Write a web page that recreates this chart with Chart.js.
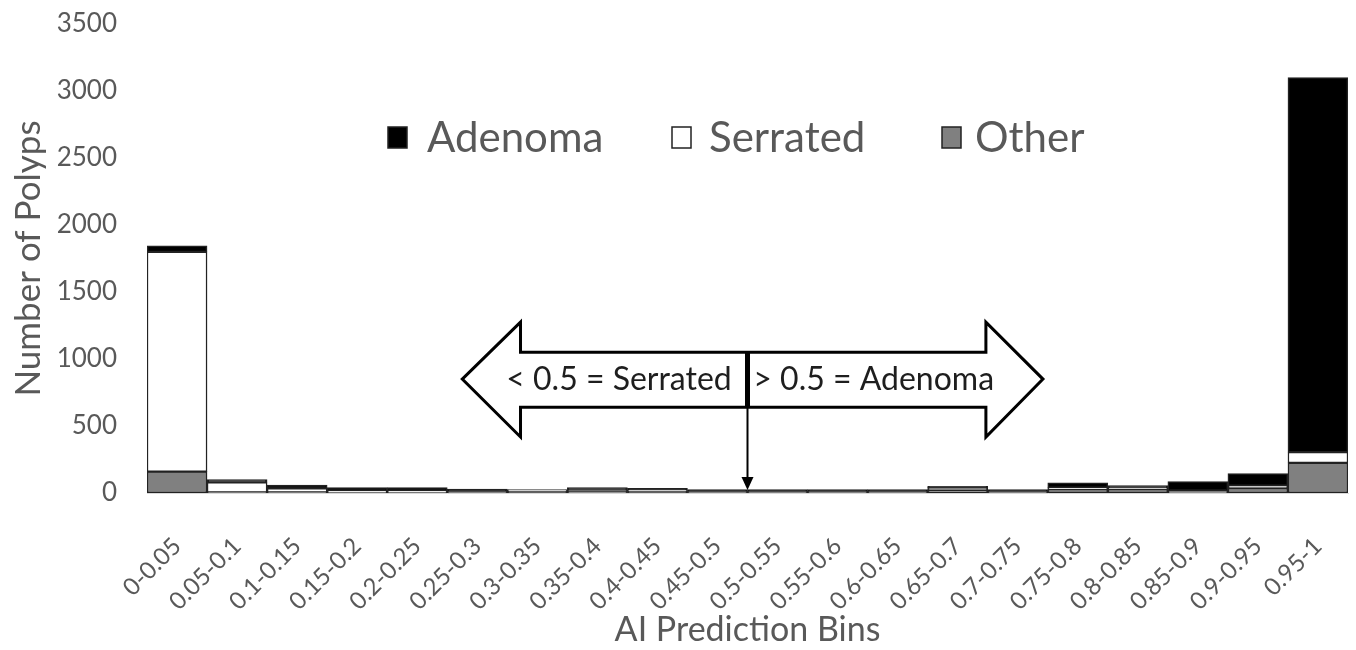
<!DOCTYPE html>
<html>
<head>
<meta charset="utf-8">
<script src="https://cdn.jsdelivr.net/npm/chart.js@4.4.1/dist/chart.umd.min.js"></script>
<style>
  html, body { margin: 0; padding: 0; background: #fff; }
  #wrap { width: 1356px; height: 650px; position: relative; }
</style>
</head>
<body>
<div id="wrap"><canvas id="polypChart"></canvas></div>
<script>
// Bins and counts
const binLabels = ['0-0.05', '0.05-0.1', '0.1-0.15', '0.15-0.2', '0.2-0.25', '0.25-0.3', '0.3-0.35',
    '0.35-0.4', '0.4-0.45', '0.45-0.5', '0.5-0.55', '0.55-0.6', '0.6-0.65', '0.65-0.7', '0.7-0.75',
    '0.75-0.8', '0.8-0.85', '0.85-0.9', '0.9-0.95', '0.95-1'];
const otherCounts    = [160, 5, 5, 5, 5, 5, 15, 10, 15, 5, 5, 5, 5, 20, 5, 30, 30, 10, 37, 225];
const serratedCounts = [1640, 75, 30, 10, 10, 5, 5, 10, 5, 5, 5, 5, 5, 20, 5, 10, 5, 5, 17, 80];
const adenomaCounts  = [45, 20, 25, 25, 25, 20, 5, 20, 15, 15, 15, 15, 15, 10, 15, 35, 20, 70, 90, 2795];
const yTicks = [0, 500, 1000, 1500, 2000, 2500, 3000, 3500];

const FONT = 'Lato, "Open Sans", sans-serif';
const TEXT_GRAY = '#595959';

// legend drawn inside the plot, in the order Adenoma / Serrated / Other
const floatingLegend = {
    id: 'floatingLegend',
    afterDraw(chart) {
        const ctx = chart.ctx;
        const items = [
            { ds: chart.data.datasets[2], box: 388, text: 427 },
            { ds: chart.data.datasets[1], box: 672, text: 709 },
            { ds: chart.data.datasets[0], box: 942, text: 975 }
        ];
        const y = 137;
        ctx.save();
        ctx.font = '42px ' + FONT;
        ctx.textBaseline = 'middle';
        items.forEach(it => {
            ctx.fillStyle = it.ds.backgroundColor;
            ctx.strokeStyle = '#222';
            ctx.lineWidth = 1.5;
            ctx.fillRect(it.box, y - 10, 19, 21);
            ctx.strokeRect(it.box, y - 10, 19, 21);
            ctx.fillStyle = TEXT_GRAY;
            ctx.fillText(it.ds.label, it.text, y + 1);
        });
        ctx.restore();
    }
};

// double arrow marking the 0.5 threshold
const thresholdArrow = {
    id: 'thresholdArrow',
    afterDraw(chart) {
        const xs = chart.scales.x, ys = chart.scales.y, ctx = chart.ctx;
        const X = v => xs.getPixelForValue(v);
        const Y = v => ys.getPixelForValue(v);
        const tipL = X(4.75), baseL = X(5.72), mid = X(9.5), baseR = X(13.47), tipR = X(14.42);
        const yTip = Y(850), headTop = Y(1275), headBot = Y(418), shaftTop = Y(1050), shaftBot = Y(640);
        ctx.save();
        ctx.beginPath();
        ctx.moveTo(tipL, yTip);
        ctx.lineTo(baseL, headTop);
        ctx.lineTo(baseL, shaftTop);
        ctx.lineTo(baseR, shaftTop);
        ctx.lineTo(baseR, headTop);
        ctx.lineTo(tipR, yTip);
        ctx.lineTo(baseR, headBot);
        ctx.lineTo(baseR, shaftBot);
        ctx.lineTo(baseL, shaftBot);
        ctx.lineTo(baseL, headBot);
        ctx.closePath();
        ctx.fillStyle = '#fff';
        ctx.fill();
        ctx.lineWidth = 3;
        ctx.strokeStyle = '#000';
        ctx.lineJoin = 'miter';
        ctx.stroke();

        // divider + pointer down to the axis
        ctx.beginPath();
        ctx.lineWidth = 5;
        ctx.moveTo(mid, shaftTop);
        ctx.lineTo(mid, shaftBot);
        ctx.stroke();
        const pointerEnd = Y(0) - 3;
        ctx.beginPath();
        ctx.lineWidth = 2;
        ctx.moveTo(mid, shaftBot);
        ctx.lineTo(mid, pointerEnd - 12);
        ctx.stroke();
        ctx.beginPath();
        ctx.moveTo(mid - 6, pointerEnd - 13);
        ctx.lineTo(mid + 6, pointerEnd - 13);
        ctx.lineTo(mid, pointerEnd);
        ctx.closePath();
        ctx.fillStyle = '#000';
        ctx.fill();

        ctx.font = '32px ' + FONT;
        ctx.fillStyle = '#1e1e1e';
        ctx.textAlign = 'center';
        ctx.textBaseline = 'middle';
        ctx.fillText('< 0.5 = Serrated', (baseL + mid) / 2 - 15, yTip + 1);
        ctx.fillText('> 0.5 = Adenoma', (mid + baseR) / 2 + 7, yTip + 1);
        ctx.restore();
    }
};

function barSet(label, data, color) {
    return {
        label: label,
        data: data,
        backgroundColor: color,
        borderColor: '#222',
        borderWidth: 1.5,
        borderSkipped: false,
        barPercentage: 1,
        categoryPercentage: 1
    };
}

new Chart(document.getElementById('polypChart').getContext('2d'), {
    type: 'bar',
    data: {
        labels: binLabels,
        datasets: [
            barSet('Other', otherCounts, '#808080'),
            barSet('Serrated', serratedCounts, '#ffffff'),
            barSet('Adenoma', adenomaCounts, '#000000')
        ]
    },
    options: {
        responsive: true,
        maintainAspectRatio: false,
        animation: false,
        layout: { padding: { top: 24, right: 8, left: 0, bottom: 0 } },
        plugins: { legend: { display: false }, tooltip: { enabled: false } },
        scales: {
            x: {
                stacked: true,
                grid: { display: false, drawTicks: false },
                border: { display: true, color: '#d9d9d9' },
                ticks: {
                    color: TEXT_GRAY, font: { family: FONT, size: 24 },
                    maxRotation: 45, minRotation: 45, autoSkip: false, padding: 39
                },
                title: {
                    display: true, text: 'AI Prediction Bins', color: TEXT_GRAY,
                    font: { family: FONT, size: 34 }, padding: { top: 4, bottom: 0 }
                },
                afterFit: s => { s.height = 157; s.paddingLeft = 0; s.paddingRight = 0; }
            },
            y: {
                stacked: true,
                min: 0, max: 3500,
                grid: { display: false, drawTicks: false },
                border: { display: false },
                afterBuildTicks: s => { s.ticks = yTicks.map(v => ({ value: v })); },
                ticks: {
                    color: TEXT_GRAY, font: { family: FONT, size: 26 }, padding: 30,
                    callback: v => String(v)
                },
                title: {
                    display: true, text: 'Number of Polyps', color: TEXT_GRAY,
                    font: { family: FONT, size: 35 }, padding: { top: 8, bottom: 0 }
                },
                afterFit: s => { s.width = 147; s.paddingTop = 0; s.paddingBottom = 0; }
            }
        }
    },
    plugins: [floatingLegend, thresholdArrow]
});
</script>
</body>
</html>
